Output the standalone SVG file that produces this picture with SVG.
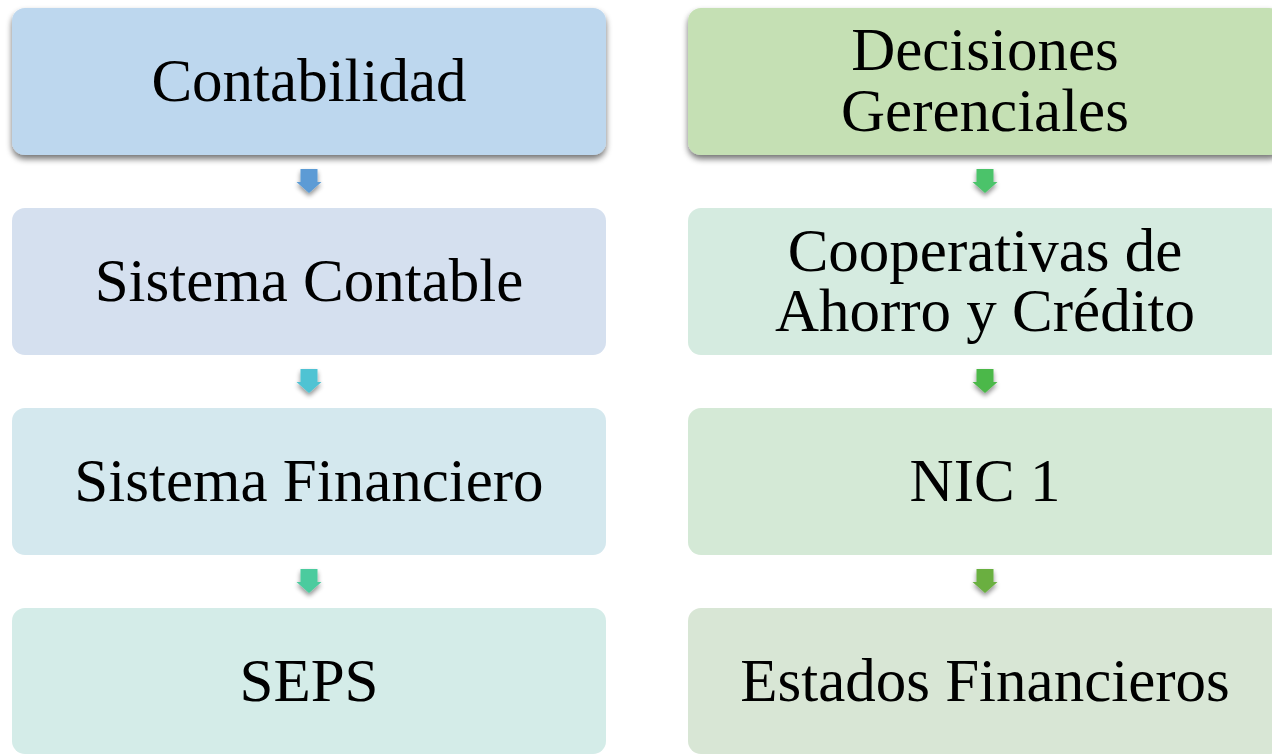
<svg xmlns="http://www.w3.org/2000/svg" width="1272" height="754" viewBox="0 0 1272 754">
<defs>
<filter id="sh" x="-10%" y="-20%" width="120%" height="150%">
<feGaussianBlur in="SourceAlpha" stdDeviation="3"/>
<feOffset dx="0" dy="4"/>
<feComponentTransfer><feFuncA type="linear" slope="0.55"/></feComponentTransfer>
<feMerge><feMergeNode/><feMergeNode in="SourceGraphic"/></feMerge>
</filter>
<filter id="ash" x="-50%" y="-50%" width="200%" height="200%">
<feGaussianBlur in="SourceAlpha" stdDeviation="2.5"/>
<feOffset dx="0" dy="3"/>
<feComponentTransfer><feFuncA type="linear" slope="0.45"/></feComponentTransfer>
<feMerge><feMergeNode/><feMergeNode in="SourceGraphic"/></feMerge>
</filter>
<path id="arr" d="M-8.5,0 H8.5 V13 H12.5 L0,24 L-12.5,13 H-8.5 Z"/>
</defs>
<style>
.t{font-family:'Liberation Serif','Times New Roman',serif;font-size:61px;fill:#000;text-anchor:middle}
</style>
<g id="connectors">
<use href="#arr" x="309" y="169" fill="#5B9BD5" filter="url(#ash)"/>
<use href="#arr" x="309" y="369" fill="#4FC3D3" filter="url(#ash)"/>
<use href="#arr" x="309" y="569" fill="#4CCB9E" filter="url(#ash)"/>
<use href="#arr" x="985" y="169" fill="#4CC36A" filter="url(#ash)"/>
<use href="#arr" x="985" y="369" fill="#4CB848" filter="url(#ash)"/>
<use href="#arr" x="985" y="569" fill="#6AAF40" filter="url(#ash)"/>
</g>
<g id="n1"><rect x="12" y="8" width="594" height="147" rx="13" fill="#BDD7EE" filter="url(#sh)"/><text class="t" x="309" y="101">Contabilidad</text></g>
<g id="n2"><rect x="12" y="208" width="594" height="147" rx="13" fill="#D5E0EF"/><text class="t" x="309" y="301">Sistema Contable</text></g>
<g id="n3"><rect x="12" y="408" width="594" height="147" rx="13" fill="#D4E8EE"/><text class="t" x="309" y="501">Sistema Financiero</text></g>
<g id="n4"><rect x="12" y="608" width="594" height="146" rx="13" fill="#D4ECE8"/><text class="t" x="309" y="701">SEPS</text></g>
<g id="n5"><rect x="688" y="8" width="594" height="147" rx="13" fill="#C5E0B4" filter="url(#sh)"/><text class="t" x="985" y="70">Decisiones</text><text class="t" x="985" y="131">Gerenciales</text></g>
<g id="n6"><rect x="688" y="208" width="594" height="147" rx="13" fill="#D5EBE0"/><text class="t" x="985" y="271">Cooperativas de</text><text class="t" x="985" y="331">Ahorro y Crédito</text></g>
<g id="n7"><rect x="688" y="408" width="594" height="147" rx="13" fill="#D4E9D6"/><text class="t" x="985" y="501">NIC 1</text></g>
<g id="n8"><rect x="688" y="608" width="594" height="146" rx="13" fill="#D8E6D5"/><text class="t" x="985" y="701">Estados Financieros</text></g>
</svg>
